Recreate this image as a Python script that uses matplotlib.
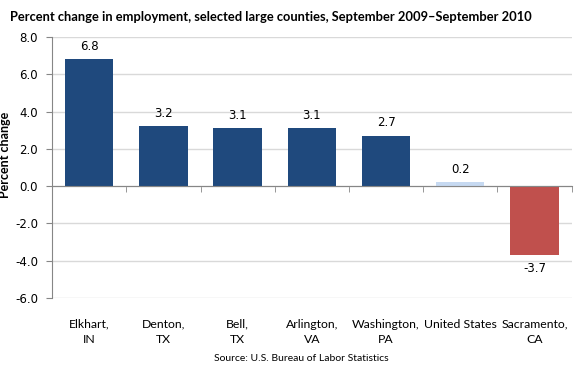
import numpy as np
import matplotlib.pyplot as plt
from matplotlib.transforms import blended_transform_factory

counties = ['Elkhart,\nIN', 'Denton,\nTX', 'Bell,\nTX', 'Arlington,\nVA',
            'Washington,\nPA', 'United States', 'Sacramento,\nCA']
pct_change = [6.8, 3.2, 3.1, 3.1, 2.7, 0.2, -3.7]
bar_colors = ['#1F497D', '#1F497D', '#1F497D', '#1F497D', '#1F497D', '#C6D9F1', '#C0504D']

fig = plt.figure(figsize=(5.8, 3.7), dpi=100)
ax = fig.add_axes([0.0897, 0.195, 0.896, 0.705])

x = np.arange(len(counties))
ax.bar(x, pct_change, width=0.65, color=bar_colors, zorder=3)

ax.set_xlim(-0.5, len(counties) - 0.5)
ax.set_ylim(-6, 8)
ax.set_yticks(np.arange(-6, 9, 2))
ax.set_yticklabels([f'{v:.1f}' for v in np.arange(-6, 9, 2)], fontsize=8.5)
ax.yaxis.grid(True, color='#D9D9D9', linewidth=1, zorder=0)
ax.tick_params(axis='y', length=4, color='#868686', pad=6)

for s in ['top', 'right']:
    ax.spines[s].set_visible(False)
ax.spines['left'].set_color('#868686')
ax.spines['bottom'].set_position(('data', 0))
ax.spines['bottom'].set_color('#868686')
ax.spines['bottom'].set_zorder(4)

ax.set_xticks(x)
ax.set_xticklabels([])
ax.tick_params(axis='x', which='major', length=0)
ax.set_xticks(np.arange(len(counties) + 1) - 0.5, minor=True)
ax.tick_params(axis='x', which='minor', length=4, color='#868686', direction='out')

# category labels under the plot area
tr = blended_transform_factory(ax.transData, ax.transAxes)
for xi, name in zip(x, counties):
    ax.text(xi, -0.08, name, transform=tr, ha='center', va='top',
            fontsize=8.8, family='Lato', linespacing=1.5)

# value labels
for xi, v in zip(x, pct_change):
    if v >= 0:
        ax.text(xi, v + 0.35, f'{v:.1f}', ha='center', va='bottom', fontsize=8.5)
    else:
        ax.text(xi, v - 0.35, f'{v:.1f}', ha='center', va='top', fontsize=8.5)

ax.set_ylabel('Percent change', fontsize=9, fontweight='bold', family='Lato')
ax.yaxis.set_label_coords(-0.078, 0.55)

fig.text(0.017, 0.955, 'Percent change in employment, selected large counties, September 2009\u2013September 2010',
         fontsize=9.3, fontweight='bold', family='Lato', ha='left', va='center')
fig.text(0.52, 0.032, 'Source: U.S. Bureau of Labor Statistics', fontsize=7.5,
         family='Lato', ha='center', va='center')

fig.savefig('out.png', dpi=100)
